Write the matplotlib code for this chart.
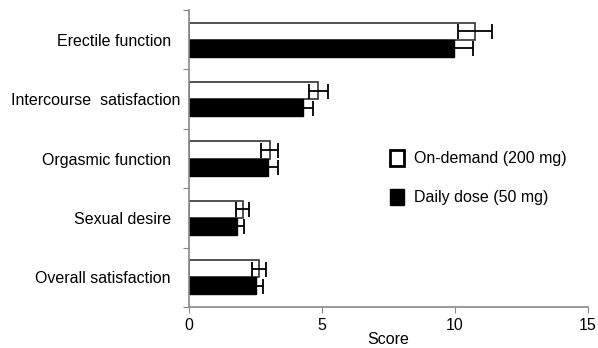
import matplotlib.pyplot as plt
from matplotlib.patches import Patch
import matplotlib.transforms as mtransforms
import numpy as np

categories = ["Erectile function", "Intercourse  satisfaction", "Orgasmic function",
              "Sexual desire", "Overall satisfaction"]
on_demand = [10.75, 4.87, 3.04, 2.02, 2.64]
on_demand_err = [0.63, 0.37, 0.32, 0.24, 0.27]
daily = [9.95, 4.28, 2.99, 1.80, 2.53]
daily_err = [0.73, 0.40, 0.37, 0.26, 0.26]

plt.rcParams['font.family'] = ['Liberation Sans', 'DejaVu Sans']

fig = plt.figure(figsize=(5.98, 3.48), dpi=100)
ax = fig.add_axes([0.316, 0.118, 0.667, 0.853])

y = np.arange(len(categories))[::-1]
h = 0.29
off = 0.145
err_kw = dict(ecolor='black', elinewidth=1.3, capsize=5.4, capthick=1.3)
ax.barh(y + off, on_demand, height=h, color='white', edgecolor='#333333',
        linewidth=1.2, xerr=on_demand_err, error_kw=err_kw, zorder=2)
ax.barh(y - off, daily, height=h, color='black', edgecolor='black',
        linewidth=1, xerr=daily_err, error_kw=err_kw, zorder=2)

ax.set_xlim(0, 15)
ax.set_ylim(-0.5, 4.5)
ax.set_xticks([0, 5, 10, 15])
ax.set_yticks(np.arange(-0.5, 5, 1))
ax.set_yticklabels([])
ax.set_yticks(y, minor=True)
ax.set_yticklabels(categories, minor=True, fontsize=11.5)
ax.tick_params(axis='y', which='minor', length=0, pad=13)
ax.tick_params(axis='y', which='major', length=4, color='#888888')
ax.tick_params(axis='x', length=4, color='#888888', labelsize=11.5, pad=4)
ax.set_xlabel("Score", fontsize=11.5, labelpad=-1)

# the second label sits a bit further right in the original
lbl = ax.get_yticklabels(minor=True)[1]
lbl.set_transform(lbl.get_transform() + mtransforms.ScaledTranslation(0.09, 0, fig.dpi_scale_trans))

for s in ['top', 'right']:
    ax.spines[s].set_visible(False)
for s in ['left', 'bottom']:
    ax.spines[s].set_color('#888888')
    ax.spines[s].set_linewidth(1.2)

handles = [Patch(facecolor='white', edgecolor='black', linewidth=2, label='On-demand (200 mg)'),
           Patch(facecolor='black', edgecolor='black', label='Daily dose (50 mg)')]
fig.legend(handles=handles, loc='center left', bbox_to_anchor=(0.628, 0.49),
           frameon=False, fontsize=11.5, handlelength=0.9, handleheight=1.2,
           labelspacing=1.4, handletextpad=0.6)

fig.savefig("out.png", dpi=100)
